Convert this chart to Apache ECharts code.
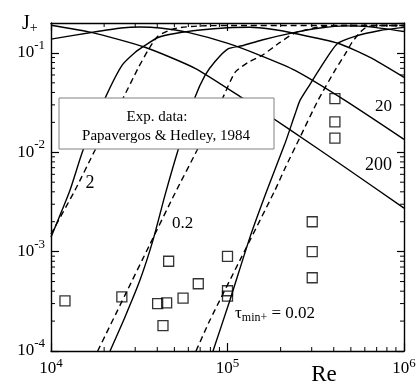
<!DOCTYPE html>
<html>
<head>
<meta charset="utf-8">
<script src="https://cdn.jsdelivr.net/npm/echarts@6.0.0/dist/echarts.min.js"></script>
<style>
html,body{margin:0;padding:0;background:#fff;}
#chart{width:416px;height:383px;}
</style>
</head>
<body>
<div id="chart"></div>
<script>
// [Re, J+]
var tau200 = [[1e4,0.190],[1.69e4,0.161],[3.41e4,0.114],[6.55e4,0.0699],[1.22e5,0.0349],[2.2e5,0.0174],[4.63e5,0.00707],[1e6,0.00274]];
var tau20 = [[1e4,0.1376],[1.69e4,0.1607],[2.493e4,0.1783],[3.193e4,0.1826],[4.146e4,0.1783],[5.973e4,0.1607],[1.006e5,0.1246],[1.528e5,0.0944],[2.412e5,0.0667],[4.63e5,0.0333],[1e6,0.0135]];
var tau2Solid = [[1e4,1.40e-3],[1.281e4,4.15e-3],[1.518e4,0.01047],[2.023e4,0.0349],[2.525e4,0.0749],[2.992e4,0.101],[3.41e4,0.119],[4.04e4,0.143],[5.04e4,0.157],[6.99e4,0.170],[1.006e5,0.179],[1.341e5,0.181],[1.741e5,0.174],[2.412e5,0.157],[4.227e5,0.125],[6.42e5,0.090],[1e6,0.0567]];
var tau2Dash = [[1e4,1.50e-3],[1.368e4,4.15e-3],[1.775e4,0.01047],[2.558e4,0.0349],[3.111e4,0.0699],[3.545e4,0.106],[4.04e4,0.148],[5.04e4,0.176],[6.99e4,0.187],[1.341e5,0.189],[1e6,0.189]];
var tau02Solid = [[2.16e4,1e-4],[2.626e4,2.2e-4],[3.193e4,5.17e-4],[3.784e4,1.305e-3],[4.425e4,3.70e-3],[5.243e4,0.01047],[6.545e4,0.0357],[7.457e4,0.0594],[8.5e4,0.0821],[1.006e5,0.110],[1.208e5,0.118],[1.569e5,0.135],[2.412e5,0.161],[3.343e5,0.178],[4.63e5,0.187],[6.42e5,0.183],[1e6,0.1645]];
var tau02Dash = [[1.839e4,1e-4],[2.626e4,3.65e-4],[3.638e4,1.19e-3],[5.04e4,3.87e-3],[6.718e4,0.01047],[9.43e4,0.0357],[1.103e5,0.0637],[1.307e5,0.0802],[1.569e5,0.0944],[1.984e5,0.1275],[2.412e5,0.159],[3.343e5,0.183],[4.63e5,0.189],[1e6,0.189]];
var tau002Solid = [[8.277e4,1e-4],[1.033e5,3.26e-4],[1.341e5,1.40e-3],[1.674e5,4.15e-3],[2.118e5,0.0123],[2.412e5,0.0241],[2.575e5,0.0333],[2.934e5,0.0483],[3.343e5,0.0699],[4.172e5,0.123],[5.278e5,0.1465],[7.31e5,0.168],[1e6,0.1805]];
var tau002Dash = [[6.63e4,1e-4],[7.958e4,2.05e-4],[1.177e5,8.21e-4],[1.858e5,4.15e-3],[2.118e5,6.91e-3],[2.575e5,0.01415],[3.256e5,0.0333],[4.065e5,0.0667],[4.63e5,0.0966],[5.075e5,0.1275],[5.632e5,0.161],[6.17e5,0.183],[7.31e5,0.189],[1e6,0.189]];
// Papavergos & Hedley, 1984
var expData = [[1.2e4,3.2e-4],[2.52e4,3.5e-4],[4.02e4,3.0e-4],[4.52e4,3.05e-4],[4.64e4,8.0e-4],[4.31e4,1.8e-4],[5.6e4,3.4e-4],[6.83e4,4.75e-4],[1.0e5,8.95e-4],[1.0e5,4.04e-4],[1.0e5,3.57e-4],[3.02e5,2.0e-3],[3.02e5,1.0e-3],[3.02e5,5.46e-4],[4.06e5,0.0347],[4.06e5,0.0202],[4.06e5,0.0139]];
// minor tick positions
var xMinor = [2e4,3e4,4e4,5e4,6e4,7e4,8e4,9e4,2e5,3e5,4e5,5e5,6e5,7e5,8e5,9e5];
var yMinor = [2e-4,3e-4,4e-4,5e-4,6e-4,7e-4,8e-4,9e-4,2e-3,3e-3,4e-3,5e-3,6e-3,7e-3,8e-3,9e-3,2e-2,3e-2,4e-2,5e-2,6e-2,7e-2,8e-2,9e-2];

var FONT = 'Liberation Serif';

function powLabel(v){
	var e = Math.log10(v);
	if(Math.abs(e-Math.round(e))>1e-6){
		return '';
	}
	return '{b|10}{s|'+Math.round(e)+'}';
}

function curve(data, dashed){
	return {
		type:'line',
		data:data,
		showSymbol:false,
		smooth:0.2,
		silent:true,
		lineStyle:{color:'#000',width:1.4,type:dashed?[6,4]:'solid'},
		z:3
	};
}

var chart = echarts.init(document.getElementById("chart"));
var option = {
	animation:false,
	backgroundColor:'#fff',
	grid:{left:51,right:12,top:23,bottom:32,containLabel:false,outerBoundsMode:'none'},
	xAxis:[{
		type:'log',min:1e4,max:1e6,logBase:10,
		axisLine:{lineStyle:{color:'#000',width:1.4}},
		axisTick:{inside:true,length:8,lineStyle:{color:'#000',width:1.2}},
		splitLine:{show:false},
		axisLabel:{
			margin:6,color:'#000',formatter:powLabel,
			rich:{
				b:{fontSize:17,fontFamily:FONT,lineHeight:24,color:'#000'},
				s:{fontSize:13,fontFamily:FONT,lineHeight:10,verticalAlign:'top',color:'#000'}
			}
		}
	},{
		type:'log',min:1e4,max:1e6,position:'top',
		axisLine:{lineStyle:{color:'#000',width:1.4}},
		axisTick:{inside:true,length:8,lineStyle:{color:'#000',width:1.2}},
		axisLabel:{show:false},
		splitLine:{show:false}
	}],
	yAxis:[{
		type:'log',min:1e-4,max:0.2,interval:1,
		axisLine:{lineStyle:{color:'#000',width:1.4}},
		axisTick:{inside:true,length:8,lineStyle:{color:'#000',width:1.2}},
		splitLine:{show:false},
		axisLabel:{
			margin:6,color:'#000',formatter:powLabel,showMaxLabel:false,
			rich:{
				b:{fontSize:17,fontFamily:FONT,lineHeight:28,color:'#000'},
				s:{fontSize:13,fontFamily:FONT,lineHeight:10,verticalAlign:'top',color:'#000'}
			}
		}
	},{
		type:'log',min:1e-4,max:0.2,interval:1,position:'right',
		axisLine:{lineStyle:{color:'#000',width:1.4}},
		axisTick:{inside:true,length:7,lineStyle:{color:'#000',width:1.2}},
		axisLabel:{show:false},
		splitLine:{show:false}
	}],
	series:[
		curve(tau200,false),
		curve(tau20,false),
		curve(tau2Solid,false),
		curve(tau2Dash,true),
		curve(tau02Solid,false),
		curve(tau02Dash,true),
		curve(tau002Solid,false),
		curve(tau002Dash,true),
		{
			type:'scatter',
			data:expData,
			symbol:'rect',
			symbolSize:10,
			itemStyle:{color:'rgba(0,0,0,0)',borderColor:'#000',borderWidth:1.3},
			z:4
		},
		{
			// minor ticks, bottom and top
			type:'custom',
			data:xMinor.map(function(v){return [v,1e-3];}),
			silent:true,
			renderItem:function(params, api){
				var p = api.coord([api.value(0),1e-3]);
				var cs = params.coordSys;
				var st = {stroke:'#000',lineWidth:1};
				return {type:'group',children:[
					{type:'line',shape:{x1:p[0],y1:cs.y+cs.height,x2:p[0],y2:cs.y+cs.height-4},style:st},
					{type:'line',shape:{x1:p[0],y1:cs.y,x2:p[0],y2:cs.y+4},style:st}
				]};
			}
		},
		{
			// minor ticks, left and right
			type:'custom',
			data:yMinor.map(function(v){return [1e5,v];}),
			silent:true,
			renderItem:function(params, api){
				var p = api.coord([1e5,api.value(1)]);
				var cs = params.coordSys;
				var st = {stroke:'#000',lineWidth:1};
				return {type:'group',children:[
					{type:'line',shape:{x1:cs.x,y1:p[1],x2:cs.x+4,y2:p[1]},style:st},
					{type:'line',shape:{x1:cs.x+cs.width,y1:p[1],x2:cs.x+cs.width-4,y2:p[1]},style:st}
				]};
			}
		}
	],
	graphic:[
		{type:'rect',z:100,shape:{x:59,y:98,width:215,height:51},style:{fill:'#fff',stroke:'#808080',lineWidth:1}},
		{type:'text',z:101,x:157,y:117,style:{text:'Exp. data:',font:'15px "Liberation Serif"',fill:'#000',textAlign:'center',textVerticalAlign:'middle'}},
		{type:'text',z:101,x:166,y:136,style:{text:'Papavergos & Hedley, 1984',font:'15px "Liberation Serif"',fill:'#000',textAlign:'center',textVerticalAlign:'middle'}},
		{type:'text',z:101,x:22,y:24,style:{
			text:'{j|J}{p|+}',textVerticalAlign:'middle',
			rich:{j:{fontSize:20,fontFamily:FONT,lineHeight:22,fill:'#000'},p:{fontSize:14,fontFamily:FONT,lineHeight:12,verticalAlign:'bottom',fill:'#000'}}
		}},
		{type:'text',z:101,x:324,y:375,style:{text:'Re',font:'23px "Liberation Serif"',fill:'#000',textAlign:'center',textVerticalAlign:'middle'}},
		{type:'text',z:101,x:90,y:183,style:{text:'2',font:'18px "Liberation Serif"',fill:'#000',textAlign:'center',textVerticalAlign:'middle'}},
		{type:'text',z:101,x:182.5,y:223.5,style:{text:'0.2',font:'17px "Liberation Serif"',fill:'#000',textAlign:'center',textVerticalAlign:'middle'}},
		{type:'text',z:101,x:383.5,y:106.5,style:{text:'20',font:'17px "Liberation Serif"',fill:'#000',textAlign:'center',textVerticalAlign:'middle'}},
		{type:'text',z:101,x:378.5,y:165.5,style:{text:'200',font:'18px "Liberation Serif"',fill:'#000',textAlign:'center',textVerticalAlign:'middle'}},
		{type:'text',z:101,x:235,y:314,style:{
			text:'{t|\u03c4}{m|min+}{t| = 0.02}',textVerticalAlign:'middle',
			rich:{t:{fontSize:17,fontFamily:FONT,lineHeight:20,fill:'#000'},m:{fontSize:12,fontFamily:FONT,lineHeight:12,verticalAlign:'bottom',fill:'#000'}}
		}}
	]
};
chart.setOption(option);
</script>
</body>
</html>
